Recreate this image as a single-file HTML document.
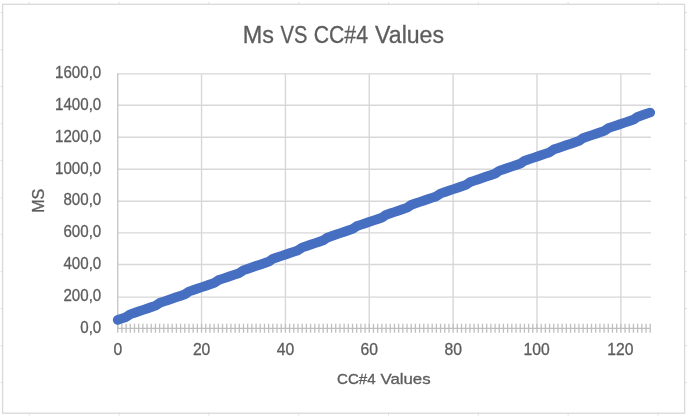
<!DOCTYPE html>
<html><head><meta charset="utf-8"><title>Ms VS CC#4 Values</title>
<style>
html,body{margin:0;padding:0;background:#fff;}
body{width:690px;height:420px;position:relative;overflow:hidden;}
svg{position:absolute;left:0;top:0;display:block;filter:blur(0.45px);}
text{font-family:"Liberation Sans",sans-serif;fill:#5d5d5d;stroke:#5d5d5d;stroke-width:0.3px;}
</style></head><body>
<svg width="690" height="420" viewBox="0 0 690 420">
<path d="M29.3 2V4M29.3 413.5V415.5M119.1 2V4M119.1 413.5V415.5M208.9 2V4M208.9 413.5V415.5M298.7 2V4M298.7 413.5V415.5M388.5 2V4M388.5 413.5V415.5M478.3 2V4M478.3 413.5V415.5M568.1 2V4M568.1 413.5V415.5M657.9 2V4M657.9 413.5V415.5M0.6 12.7H2.6M685 12.7H687M0.6 49.7H2.6M685 49.7H687M0.6 86.7H2.6M685 86.7H687M0.6 123.7H2.6M685 123.7H687M0.6 160.7H2.6M685 160.7H687M0.6 197.7H2.6M685 197.7H687M0.6 234.7H2.6M685 234.7H687M0.6 271.7H2.6M685 271.7H687M0.6 308.7H2.6M685 308.7H687M0.6 345.7H2.6M685 345.7H687M0.6 382.7H2.6M685 382.7H687" stroke="#dedede" stroke-width="1" fill="none"/>
<rect x="2.6" y="4.3" width="682" height="408.9" fill="#fff" stroke="#d9d9d9" stroke-width="1.3"/>
<path d="M117.7 297.10H650.9M117.7 264.50H650.9M117.7 232.90H650.9M117.7 201.30H650.9M117.7 169.20H650.9M117.7 137.20H650.9M117.7 105.20H650.9M117.7 73.90H650.9M201.56 73.9V328.3M285.42 73.9V328.3M369.28 73.9V328.3M453.14 73.9V328.3M537.00 73.9V328.3M620.86 73.9V328.3" stroke="#d8d8d8" stroke-width="1.4" fill="none"/>
<path d="M117.7 73.3V328.3" stroke="#c8c8c8" stroke-width="1.4" fill="none"/>
<path d="M117.7 328.3H650.9M117.70 323.8V332.8M121.89 323.8V332.8M126.09 323.8V332.8M130.28 323.8V332.8M134.47 323.8V332.8M138.66 323.8V332.8M142.86 323.8V332.8M147.05 323.8V332.8M151.24 323.8V332.8M155.44 323.8V332.8M159.63 323.8V332.8M163.82 323.8V332.8M168.02 323.8V332.8M172.21 323.8V332.8M176.40 323.8V332.8M180.59 323.8V332.8M184.79 323.8V332.8M188.98 323.8V332.8M193.17 323.8V332.8M197.37 323.8V332.8M201.56 323.8V332.8M205.75 323.8V332.8M209.95 323.8V332.8M214.14 323.8V332.8M218.33 323.8V332.8M222.52 323.8V332.8M226.72 323.8V332.8M230.91 323.8V332.8M235.10 323.8V332.8M239.30 323.8V332.8M243.49 323.8V332.8M247.68 323.8V332.8M251.88 323.8V332.8M256.07 323.8V332.8M260.26 323.8V332.8M264.45 323.8V332.8M268.65 323.8V332.8M272.84 323.8V332.8M277.03 323.8V332.8M281.23 323.8V332.8M285.42 323.8V332.8M289.61 323.8V332.8M293.81 323.8V332.8M298.00 323.8V332.8M302.19 323.8V332.8M306.38 323.8V332.8M310.58 323.8V332.8M314.77 323.8V332.8M318.96 323.8V332.8M323.16 323.8V332.8M327.35 323.8V332.8M331.54 323.8V332.8M335.74 323.8V332.8M339.93 323.8V332.8M344.12 323.8V332.8M348.31 323.8V332.8M352.51 323.8V332.8M356.70 323.8V332.8M360.89 323.8V332.8M365.09 323.8V332.8M369.28 323.8V332.8M373.47 323.8V332.8M377.67 323.8V332.8M381.86 323.8V332.8M386.05 323.8V332.8M390.24 323.8V332.8M394.44 323.8V332.8M398.63 323.8V332.8M402.82 323.8V332.8M407.02 323.8V332.8M411.21 323.8V332.8M415.40 323.8V332.8M419.60 323.8V332.8M423.79 323.8V332.8M427.98 323.8V332.8M432.17 323.8V332.8M436.37 323.8V332.8M440.56 323.8V332.8M444.75 323.8V332.8M448.95 323.8V332.8M453.14 323.8V332.8M457.33 323.8V332.8M461.53 323.8V332.8M465.72 323.8V332.8M469.91 323.8V332.8M474.10 323.8V332.8M478.30 323.8V332.8M482.49 323.8V332.8M486.68 323.8V332.8M490.88 323.8V332.8M495.07 323.8V332.8M499.26 323.8V332.8M503.46 323.8V332.8M507.65 323.8V332.8M511.84 323.8V332.8M516.03 323.8V332.8M520.23 323.8V332.8M524.42 323.8V332.8M528.61 323.8V332.8M532.81 323.8V332.8M537.00 323.8V332.8M541.19 323.8V332.8M545.39 323.8V332.8M549.58 323.8V332.8M553.77 323.8V332.8M557.97 323.8V332.8M562.16 323.8V332.8M566.35 323.8V332.8M570.54 323.8V332.8M574.74 323.8V332.8M578.93 323.8V332.8M583.12 323.8V332.8M587.32 323.8V332.8M591.51 323.8V332.8M595.70 323.8V332.8M599.89 323.8V332.8M604.09 323.8V332.8M608.28 323.8V332.8M612.47 323.8V332.8M616.67 323.8V332.8M620.86 323.8V332.8M625.05 323.8V332.8M629.25 323.8V332.8M633.44 323.8V332.8M637.63 323.8V332.8M641.83 323.8V332.8M646.02 323.8V332.8M650.21 323.8V332.8" stroke="#bfbfbf" stroke-width="1.3" fill="none"/>
<path d="M117.70 319.94 L121.89 318.52 L126.09 317.11 L130.28 314.26 L134.47 312.84 L138.66 311.42 L142.86 310.00 L147.05 308.58 L151.24 307.16 L155.44 305.74 L159.63 302.89 L163.82 301.47 L168.02 300.05 L172.21 298.63 L176.40 297.21 L180.59 295.80 L184.79 294.38 L188.98 291.53 L193.17 290.11 L197.37 288.69 L201.56 287.27 L205.75 285.85 L209.95 284.43 L214.14 283.01 L218.33 280.16 L222.52 278.74 L226.72 277.32 L230.91 275.90 L235.10 274.49 L239.30 273.07 L243.49 270.22 L247.68 268.80 L251.88 267.38 L256.07 265.96 L260.26 264.54 L264.45 263.12 L268.65 261.70 L272.84 258.85 L277.03 257.43 L281.23 256.01 L285.42 254.59 L289.61 253.18 L293.81 251.76 L298.00 250.34 L302.19 247.49 L306.38 246.07 L310.58 244.65 L314.77 243.23 L318.96 241.81 L323.16 240.39 L327.35 237.54 L331.54 236.12 L335.74 234.70 L339.93 233.28 L344.12 231.87 L348.31 230.45 L352.51 229.03 L356.70 226.18 L360.89 224.76 L365.09 223.34 L369.28 221.92 L373.47 220.50 L377.67 219.08 L381.86 217.66 L386.05 214.81 L390.24 213.39 L394.44 211.97 L398.63 210.56 L402.82 209.14 L407.02 207.72 L411.21 204.87 L415.40 203.45 L419.60 202.03 L423.79 200.61 L427.98 199.19 L432.17 197.77 L436.37 196.35 L440.56 193.50 L444.75 192.08 L448.95 190.66 L453.14 189.25 L457.33 187.83 L461.53 186.41 L465.72 184.99 L469.91 182.14 L474.10 180.72 L478.30 179.30 L482.49 177.88 L486.68 176.46 L490.88 175.04 L495.07 173.62 L499.26 170.77 L503.46 169.35 L507.65 167.94 L511.84 166.52 L516.03 165.10 L520.23 163.68 L524.42 160.83 L528.61 159.41 L532.81 157.99 L537.00 156.57 L541.19 155.15 L545.39 153.73 L549.58 152.31 L553.77 149.46 L557.97 148.04 L562.16 146.63 L566.35 145.21 L570.54 143.79 L574.74 142.37 L578.93 140.95 L583.12 138.10 L587.32 136.68 L591.51 135.26 L595.70 133.84 L599.89 132.42 L604.09 131.00 L608.28 128.15 L612.47 126.73 L616.67 125.32 L620.86 123.90 L625.05 122.48 L629.25 121.06 L633.44 119.64 L637.63 116.79 L641.83 115.37 L646.02 113.95 L650.21 112.53" stroke="#466fc2" stroke-width="9.7" stroke-linecap="round" stroke-linejoin="round" fill="none"/>
<text font-size="23.4" transform="translate(242.80 43.15) scale(1.0005 1)">Ms</text>
<text font-size="23.4" transform="translate(280.50 43.15) scale(0.8594 1)">VS</text>
<text font-size="23.4" transform="translate(313.80 43.15) scale(0.9049 1)">CC#4</text>
<text font-size="23.4" transform="translate(375.10 43.15) scale(0.9872 1)">Values</text>
<text font-size="14.8" transform="translate(337.00 383.70) scale(1.0212 1)">CC#4</text>
<text font-size="14.8" transform="translate(380.40 383.70) scale(1.1384 1)">Values</text>
<text font-size="15.9" transform="translate(80.26 333.30) scale(0.9500 1)">0,0</text>
<text font-size="15.9" transform="translate(63.47 301.34) scale(0.9500 1)">200,0</text>
<text font-size="15.9" transform="translate(63.47 269.38) scale(0.9500 1)">400,0</text>
<text font-size="15.9" transform="translate(63.47 237.42) scale(0.9500 1)">600,0</text>
<text font-size="15.9" transform="translate(63.47 205.46) scale(0.9500 1)">800,0</text>
<text font-size="15.9" transform="translate(55.07 173.50) scale(0.9500 1)">1000,0</text>
<text font-size="15.9" transform="translate(55.07 141.54) scale(0.9500 1)">1200,0</text>
<text font-size="15.9" transform="translate(55.07 109.58) scale(0.9500 1)">1400,0</text>
<text font-size="15.9" transform="translate(55.07 77.62) scale(0.9500 1)">1600,0</text>
<text font-size="15.7" transform="translate(113.40 354.80) scale(1.0000 1)">0</text>
<text font-size="15.7" transform="translate(192.90 354.80) scale(1.0000 1)">20</text>
<text font-size="15.7" transform="translate(276.76 354.80) scale(1.0000 1)">40</text>
<text font-size="15.7" transform="translate(360.62 354.80) scale(1.0000 1)">60</text>
<text font-size="15.7" transform="translate(444.48 354.80) scale(1.0000 1)">80</text>
<text font-size="15.7" transform="translate(523.48 354.80) scale(1.0000 1)">100</text>
<text font-size="15.7" transform="translate(607.34 354.80) scale(1.0000 1)">120</text>
<text font-size="15.8" transform="translate(44.40 212.82) rotate(-90) scale(1.0199 1)">MS</text>
</svg>
</body></html>
